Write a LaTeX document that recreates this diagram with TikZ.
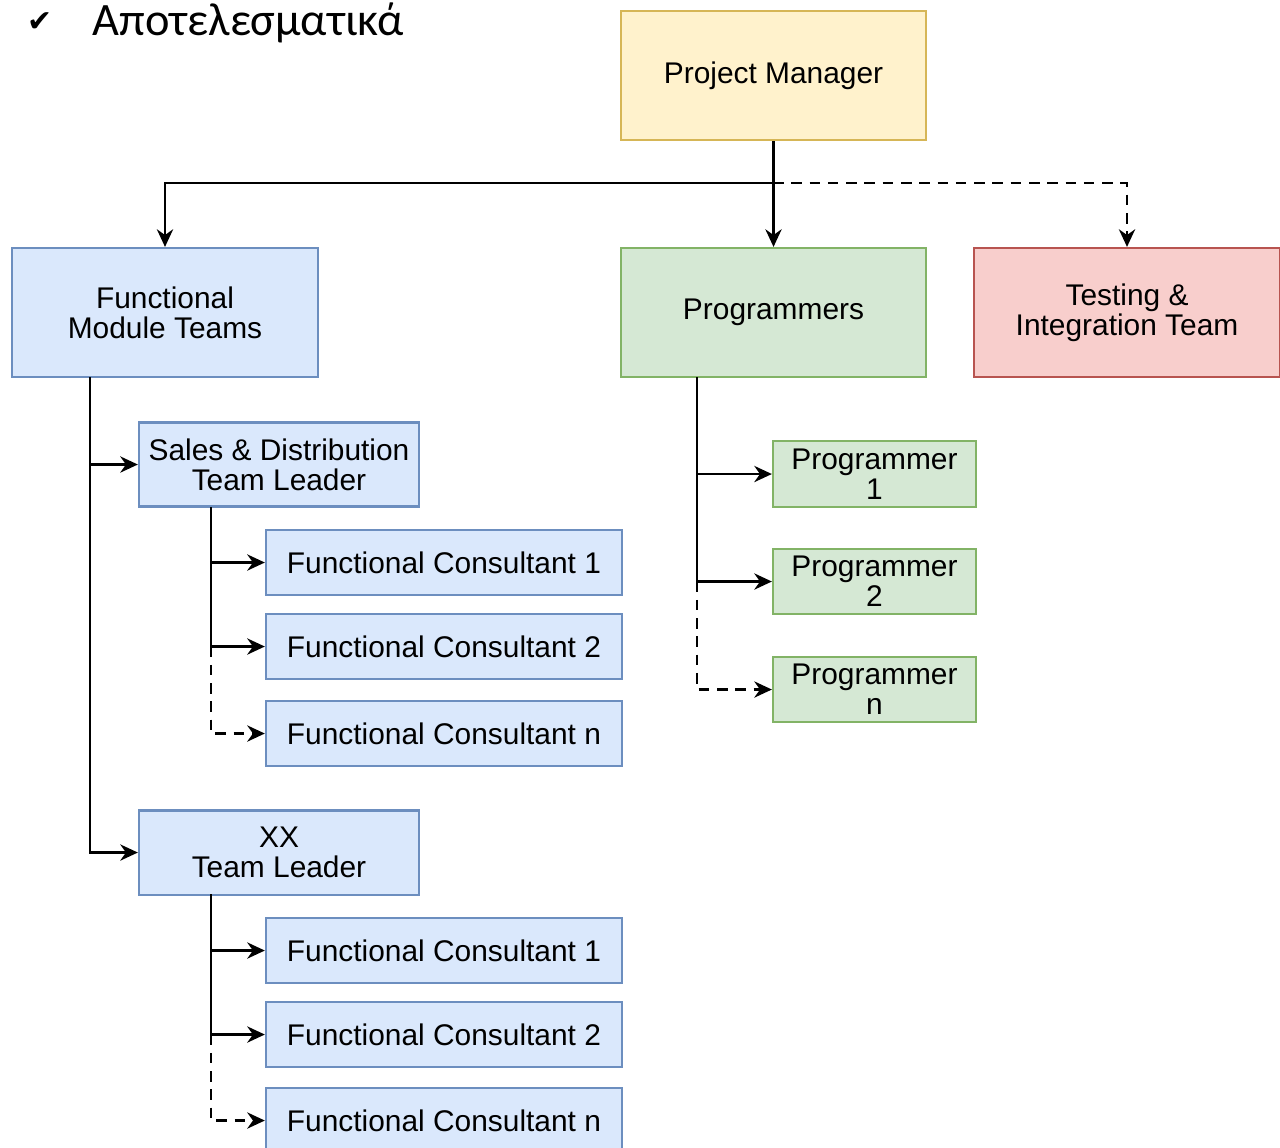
\documentclass[tikz,border=0pt]{standalone}
\usepackage{fontspec}
\setmainfont{Liberation Sans}
\newfontfamily\bodyfont{Carlito}
\newfontfamily\symbfont{DejaVu Sans}
\usetikzlibrary{arrows.meta}

\definecolor{pmfill}{HTML}{FFF2CC}
\definecolor{pmline}{HTML}{D6B656}
\definecolor{fmfill}{HTML}{DAE8FC}
\definecolor{fmline}{HTML}{6C8EBF}
\definecolor{prfill}{HTML}{D5E8D4}
\definecolor{prline}{HTML}{82B366}
\definecolor{tsfill}{HTML}{F8CECC}
\definecolor{tsline}{HTML}{B85450}

\tikzset{
  box/.style={draw, line width=.6pt, inner sep=0pt, align=center,
    font=\fontsize{8.5}{8.6}\selectfont},
  bigbox/.style={box, minimum width=3.05cm, minimum height=1.29cm},
  leadbox/.style={box, fill=fmfill, draw=fmline,
    minimum width=2.8cm, minimum height=.84cm},
  consbox/.style={box, fill=fmfill, draw=fmline,
    minimum width=3.56cm, minimum height=.65cm},
  progbox/.style={box, fill=prfill, draw=prline,
    minimum width=2.03cm, minimum height=.655cm},
  conn/.style={line width=.8pt, -{Stealth[length=5pt,width=4.6pt]}},
  dashconn/.style={conn, dash pattern=on 3pt off 2.2pt}
}

\begin{document}
\begin{tikzpicture}[x=.01cm,y=-.01cm]
\useasboundingbox (0,0) rectangle (1280,1147);

% heading line of the page above the chart
\node[anchor=base west, inner sep=0pt, font=\symbfont\fontsize{8.5}{8.5}\selectfont]
  (tick) at (27,31) {✔};
\node[anchor=base west, inner sep=0pt, font=\bodyfont\fontsize{13.2}{13.2}\selectfont]
  (head) at (92,35) {Αποτελεσματικά};

% top level
\node[bigbox, fill=pmfill, draw=pmline] (pm) at (773.5,75.5) {Project Manager};

\node[bigbox, fill=fmfill, draw=fmline] (fmt) at (165,312.5)
  {Functional\\Module Teams};
\node[bigbox, fill=prfill, draw=prline] (prg) at (773.5,312.5)
  {Programmers};
\node[bigbox, fill=tsfill, draw=tsline] (tst) at (1127,312.5)
  {Testing \&\\Integration Team};

% functional teams
\node[leadbox] (sdl) at (279,464.5) {Sales \& Distribution\\Team Leader};
\node[consbox] (sdc1) at (444,562.5) {Functional Consultant 1};
\node[consbox] (sdc2) at (444,646.5) {Functional Consultant 2};
\node[consbox] (sdcn) at (444,733.5) {Functional Consultant n};

\node[leadbox] (xxl) at (279,852.5) {XX\\Team Leader};
\node[consbox] (xxc1) at (444,950.5) {Functional Consultant 1};
\node[consbox] (xxc2) at (444,1034.5) {Functional Consultant 2};
\node[consbox] (xxcn) at (444,1120.5) {Functional Consultant n};

% programmers
\node[progbox] (pr1) at (874.5,474) {Programmer\\1};
\node[progbox] (pr2) at (874.5,581.5) {Programmer\\2};
\node[progbox] (prn) at (874.5,689.5) {Programmer\\n};

% connectors
\coordinate (split) at (773,183);
\draw[conn] (pm.south) -- (prg.north);
\draw[conn] (split) -| (fmt.north);
\draw[dashconn] (split) -| (tst.north);

\coordinate (fmtbus) at (90,377);
\draw[conn] (fmtbus) |- (sdl.west);
\draw[conn] (fmtbus) |- (xxl.west);

\coordinate (sdbus) at (211,507);
\draw[conn] (sdbus) |- (sdc1.west);
\draw[conn] (sdbus) |- (sdc2.west);
\draw[dashconn] (sdbus |- sdc2.west) |- (sdcn.west);

\coordinate (xxbus) at (211,894);
\draw[conn] (xxbus) |- (xxc1.west);
\draw[conn] (xxbus) |- (xxc2.west);
\draw[dashconn] (xxbus |- xxc2.west) |- (xxcn.west);

\coordinate (prbus) at (697,377);
\draw[conn] (prbus) |- (pr1.west);
\draw[conn] (prbus) |- (pr2.west);
\draw[dashconn] (prbus |- pr2.west) |- (prn.west);

\end{tikzpicture}
\end{document}
